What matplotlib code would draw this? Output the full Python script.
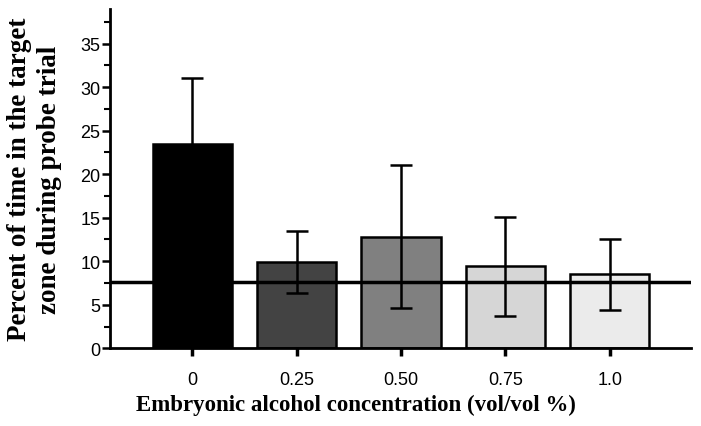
import matplotlib.pyplot as plt
from matplotlib.ticker import MultipleLocator

# Data
concentrations = ['0', '0.25', '0.50', '0.75', '1.0']
mean_pct = [23.5, 9.9, 12.8, 9.4, 8.5]
err_pct = [7.5, 3.6, 8.2, 5.7, 4.1]
bar_colors = ['#000000', '#434343', '#808080', '#d6d6d6', '#ebebeb']
chance_level = 7.6

fig = plt.figure(figsize=(7.01, 4.27), dpi=100)
ax = fig.add_axes([0.157, 0.182, 0.829, 0.795])

x = range(len(concentrations))
ax.bar(x, mean_pct, width=0.76, color=bar_colors, edgecolor='black',
       linewidth=1.8, zorder=2)
ax.errorbar(x, mean_pct, yerr=err_pct, fmt='none', ecolor='black',
            elinewidth=1.8, capsize=8, capthick=1.8, zorder=3)
ax.axhline(chance_level, color='black', linewidth=2.5, zorder=4)

ax.set_xlim(-0.79, 4.78)
ax.set_ylim(0, 39)
ax.set_xticks(list(x))
ax.set_xticklabels(concentrations, fontsize=13, family='Liberation Sans')
ax.yaxis.set_major_locator(MultipleLocator(5))
ax.yaxis.set_minor_locator(MultipleLocator(2.5))
for lab in ax.get_yticklabels():
    lab.set_family('Liberation Sans')
    lab.set_fontsize(13)

ax.spines['top'].set_visible(False)
ax.spines['right'].set_visible(False)
ax.spines['left'].set_linewidth(2)
ax.spines['bottom'].set_linewidth(2)
ax.tick_params(axis='y', which='major', length=6, width=1.8, pad=1)
ax.tick_params(axis='y', which='minor', length=4, width=1.5)
ax.tick_params(axis='x', length=6, width=2.5, pad=10)

ax.set_xlabel('Embryonic alcohol concentration (vol/vol %)', fontsize=16.5,
              fontweight='bold', family='Liberation Serif', labelpad=6)
ax.xaxis.set_label_coords(0.423, -0.135)
ax.set_ylabel('Percent of time in the target\nzone during probe trial',
              fontsize=19.5, fontweight='bold', family='Liberation Serif',
              linespacing=1.25)
ax.yaxis.set_label_coords(-0.083, 0.5)

fig.savefig('out.png', dpi=100)
